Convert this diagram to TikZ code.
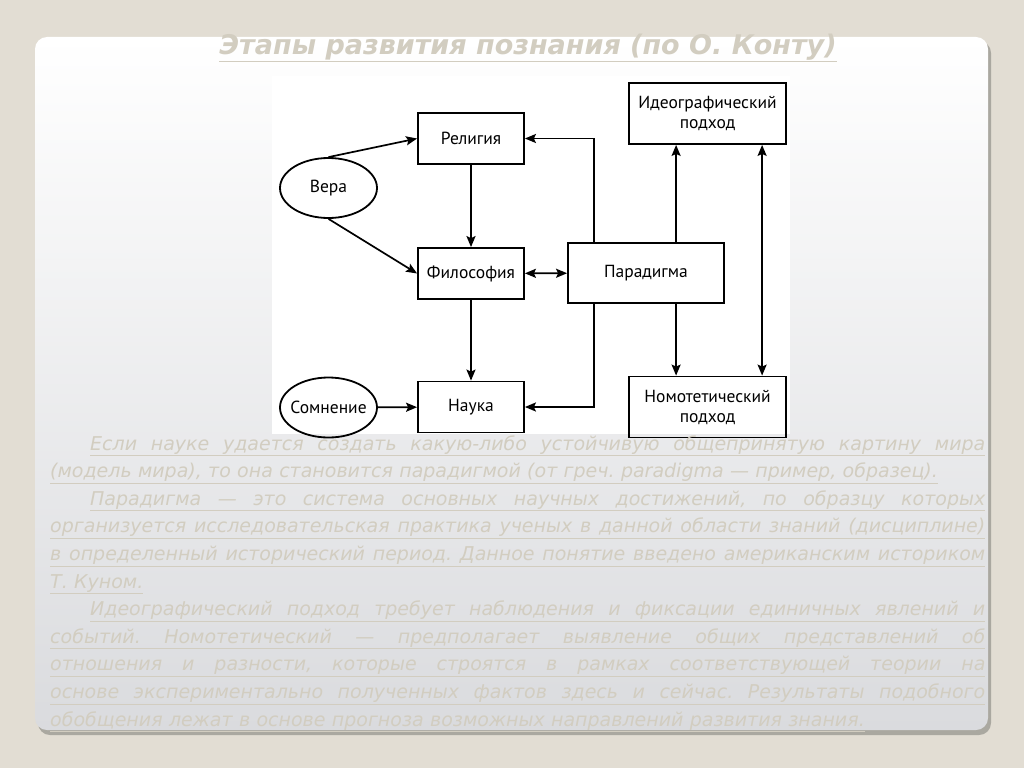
\documentclass[tikz,border=0pt]{standalone}
\usepackage{fontspec}
\setmainfont{DejaVu Sans}
\newfontfamily\diagfont{PT Sans}
\usepackage{tikz}
\usetikzlibrary{arrows.meta, shapes.geometric, positioning, calc}
\frenchspacing

\definecolor{pagebg}{RGB}{226,221,211}
\definecolor{panelshadow}{RGB}{170,168,160}
\definecolor{panelbottom}{RGB}{218,219,222}
\definecolor{fadetext}{RGB}{210,205,192}

% justified, underlined lines of the slide text
\newcommand\fullline[1]{\underline{\makebox[935pt][s]{\spaceskip=0pt\xspaceskip=0pt #1}}}
\newcommand\indentline[1]{\hspace*{40pt}\underline{\makebox[895pt][s]{\spaceskip=0pt\xspaceskip=0pt #1}}}
\newcommand\lastline[1]{\underline{#1}}

\begin{document}
\begin{tikzpicture}[
    x=1pt, y=-1pt,
    > = {Stealth[length=11pt, width=9pt, inset=2pt]},
    box/.style={draw, line width=1.8pt, minimum width=106pt, minimum height=51pt, inner sep=2pt, font=\diagfont\fontsize{17.5}{20}\selectfont, align=center},
    bigbox/.style={box, minimum width=157pt, minimum height=61pt},
    oval/.style={draw, ellipse, line width=1.8pt, minimum width=97pt, minimum height=60pt, inner xsep=-12pt, inner ysep=0pt, font=\diagfont\fontsize{17.5}{20}\selectfont},
    link/.style={->, line width=1.7pt},
    twolink/.style={<->, line width=1.7pt},
    fadetxt/.style={text=fadetext, inner sep=0pt}
]

    % 1. Page and slide panel
    \fill[pagebg] (0,0) rectangle (1024,768);
    \useasboundingbox (0,0) rectangle (1024,768);
    \fill[panelshadow, rounded corners=12pt] (38,41) rectangle (991,735);
    \shade[top color=white, bottom color=panelbottom, rounded corners=12pt] (35,37) rectangle (988,730);

    % 2. Title
    \node[fadetxt, font=\bfseries\itshape\fontsize{27}{30}\selectfont] (title) at (528,48) {\underline{Этапы развития познания (по О. Конту)}};

    % 3. The scheme (white picture area)
    \fill[white] (272,76) rectangle (790,434);

    \node[box] (rel) at (471,138.5) {Религия};
    \node[box] (fil) at (471,273.5) {Философия};
    \node[box] (nau) at (471,407) {Наука};
    \node[box, minimum width=156pt, minimum height=60pt] (par) at (646,273) {Парадигма};
    \node[bigbox] (ideo) at (707.5,113.5) {Идеографический\\подход};
    \node[bigbox] (nomo) at (707.5,407) {Номотетический\\подход};
    \node[oval] (vera) at (328.5,188) {Вера};
    \node[oval] (somn) at (328.5,407.5) {Сомнение};

    % corners of the paradigm box where the lines leave it
    \coordinate (parUpL) at ([xshift=27pt]par.north west);
    \coordinate (parDnL) at ([xshift=27pt]par.south west);
    \coordinate (parUpR) at ([xshift=109pt]par.north west);
    \coordinate (parDnR) at ([xshift=109pt]par.south west);

    \draw[link] (vera.north) -- (rel.west);
    \draw[link] (vera.south) -- (fil.west);
    \draw[link] (rel) -- (fil);
    \draw[link] (fil) -- (nau);
    \draw[link] (somn) -- (nau);
    \draw[twolink] (fil) -- (par);
    \draw[link] (parUpL) |- (rel);
    \draw[link] (parDnL) |- (nau);
    \draw[link] (parUpR) -- (parUpR |- ideo.south);
    \draw[link] (parDnR) -- (parDnR |- nomo.north);
    \draw[twolink] ([xshift=134pt]ideo.south west) -- ([xshift=134pt]nomo.north west);

    % 4. Slide text (faded)
    \node[fadetxt, anchor=base west, text width=935pt, align=left, font=\itshape\fontsize{19}{27.6}\selectfont] (notes) at (50,450) {%
        \indentline{Если науке удается создать какую-либо устойчивую общепринятую картину мира}\\
        \lastline{(модель мира), то она становится парадигмой (от греч. paradigma — пример, образец).}\\
        \indentline{Парадигма — это система основных научных достижений, по образцу которых}\\
        \fullline{организуется исследовательская практика ученых в данной области знаний (дисциплине)}\\
        \fullline{в определенный исторический период. Данное понятие введено американским историком}\\
        \lastline{Т. Куном.}\\
        \indentline{Идеографический подход требует наблюдения и фиксации единичных явлений и}\\
        \fullline{событий. Номотетический — предполагает выявление общих представлений об}\\
        \fullline{отношения и разности, которые строятся в рамках соответствующей теории на}\\
        \fullline{основе экспериментально полученных фактов здесь и сейчас. Результаты подобного}\\
        \lastline{обобщения лежат в основе прогноза возможных направлений развития знания.}};

\end{tikzpicture}
\end{document}
